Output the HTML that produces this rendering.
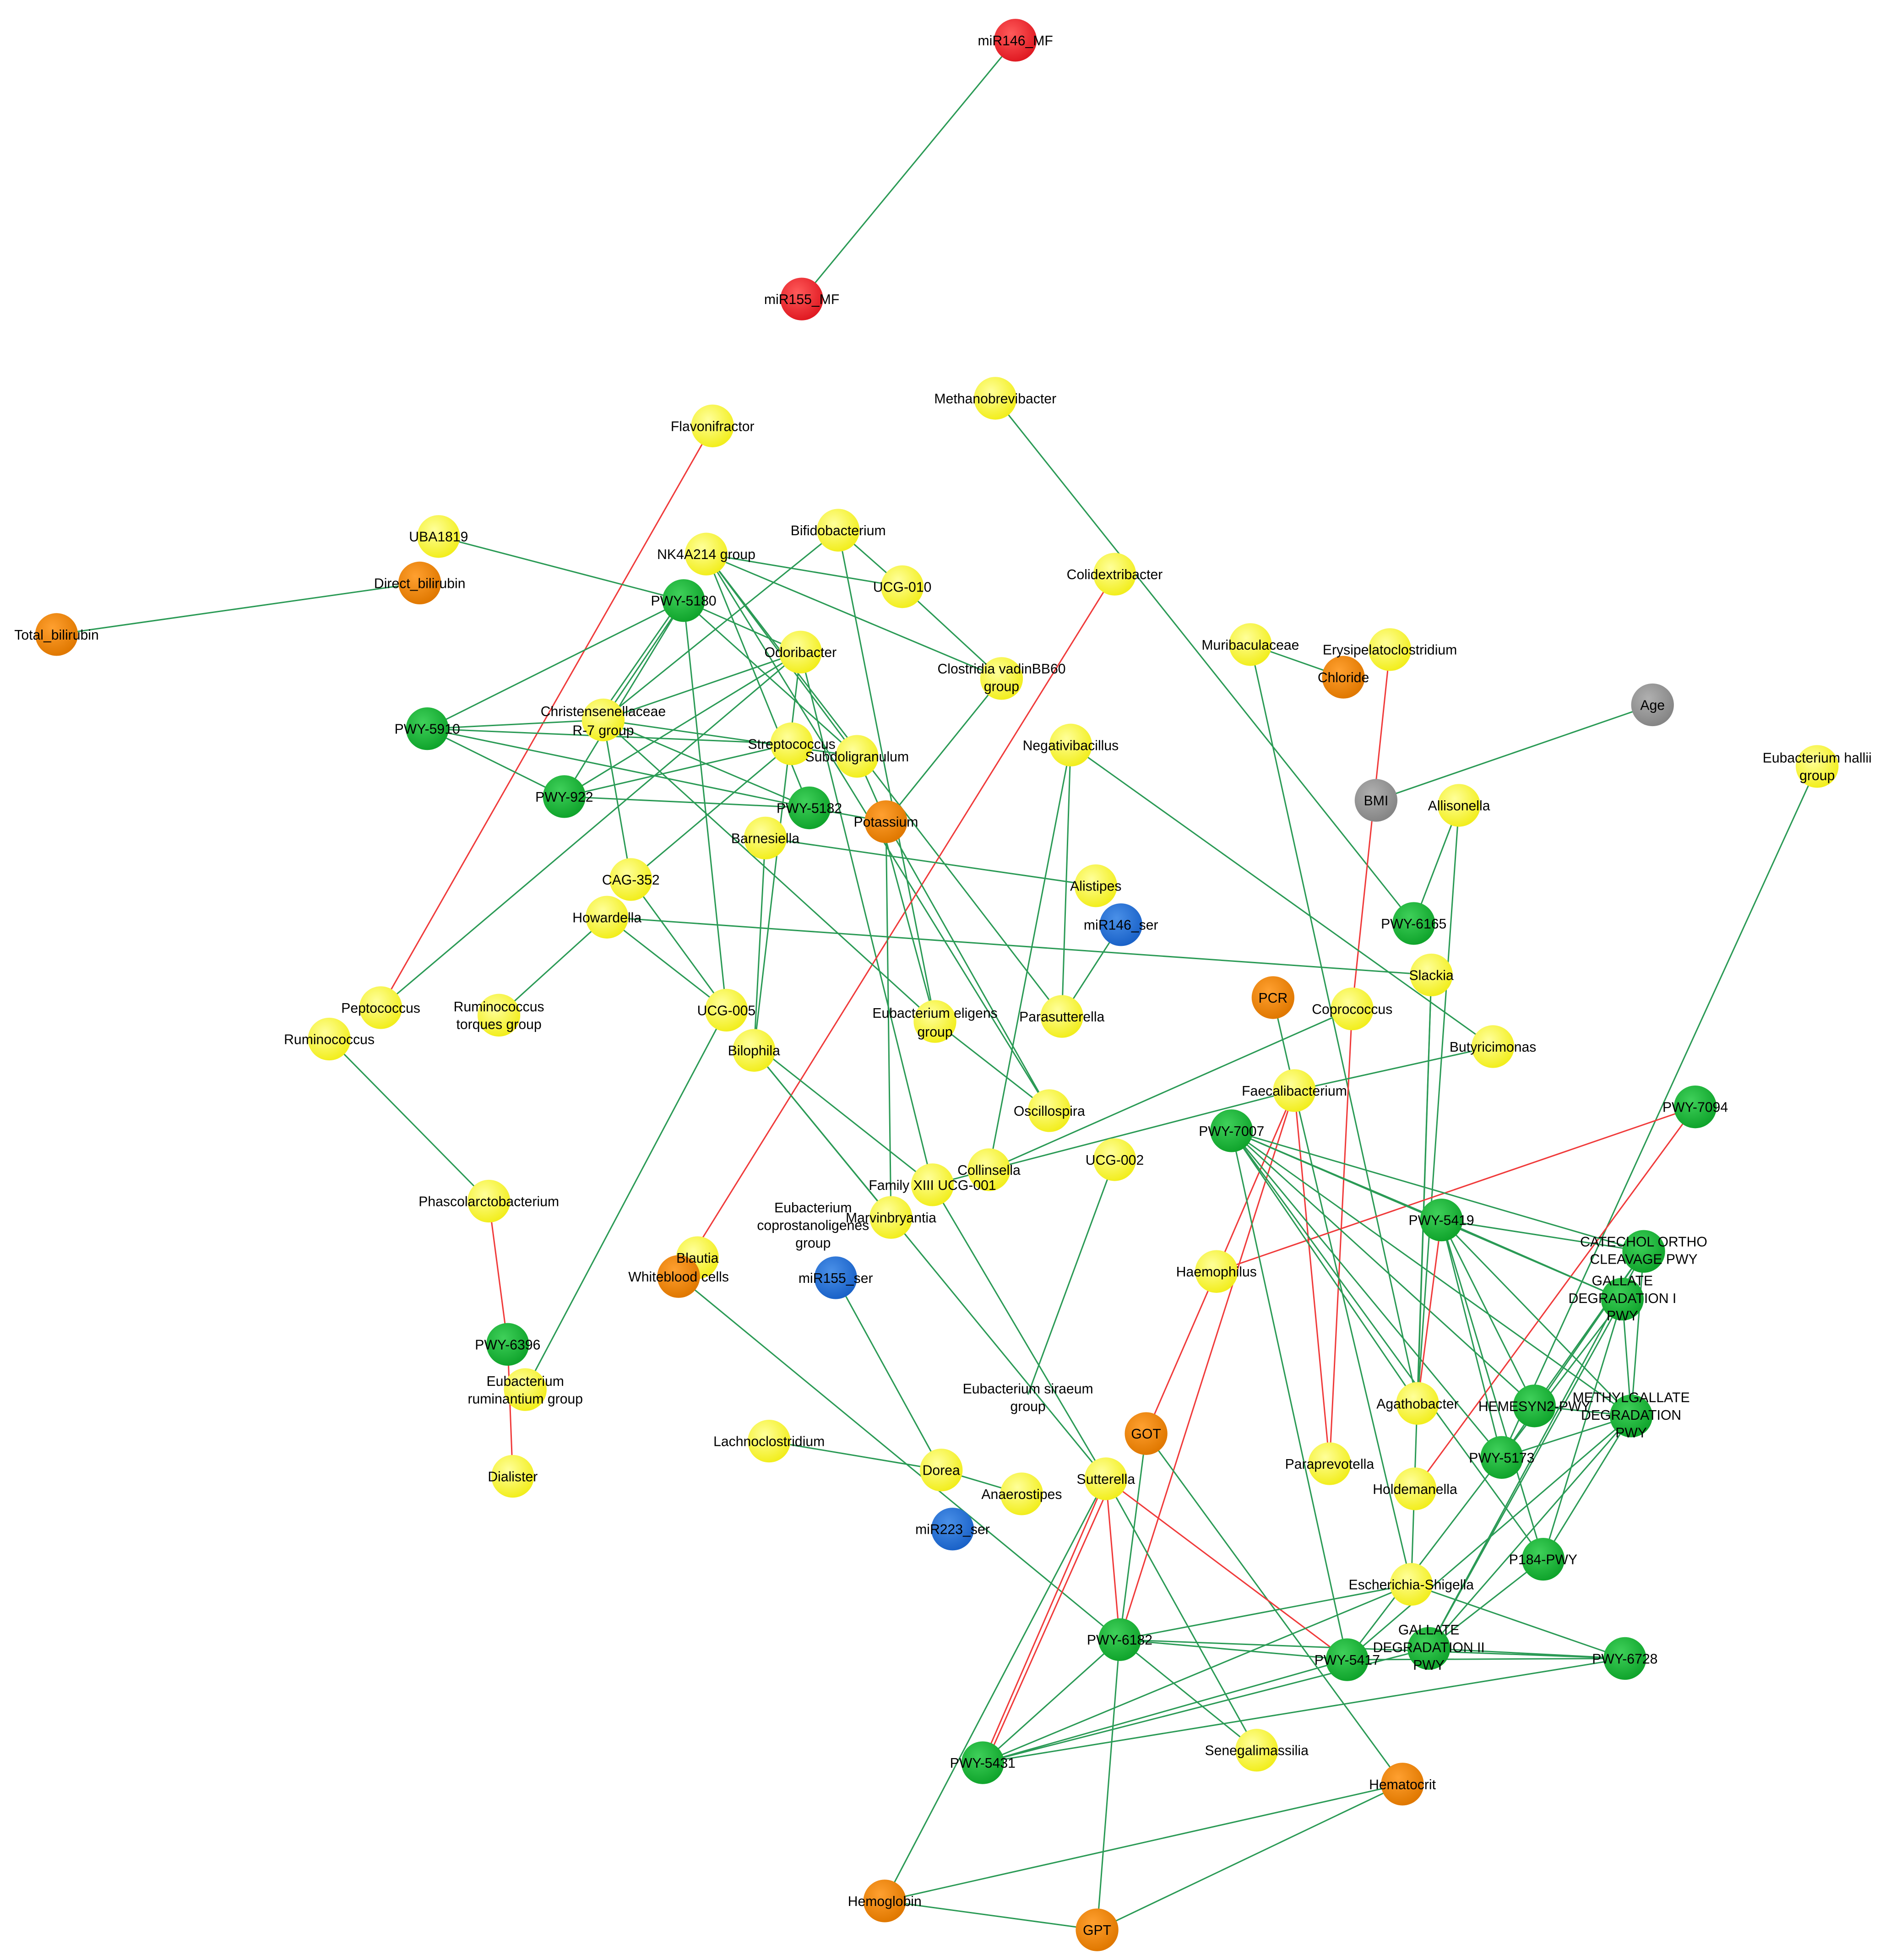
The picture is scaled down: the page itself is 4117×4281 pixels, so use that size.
<!DOCTYPE html>
<html><head><meta charset="utf-8"><style>
html,body{margin:0;padding:0;background:#fff;}
svg{display:block;}
text{font-family:"Liberation Sans",Arial,sans-serif;font-size:11px;fill:#000;text-anchor:middle;}
.g{stroke:#2a9a55;stroke-width:1.1;}
.r{stroke:#f03a3a;stroke-width:1.1;}
</style></head><body>
<svg width="4117" height="4281" viewBox="0 0 1500 1560" preserveAspectRatio="none" xmlns="http://www.w3.org/2000/svg">
<defs>
<radialGradient id="Y" cx="40%" cy="35%" r="65%"><stop offset="0" stop-color="#ffff9a"/><stop offset="1" stop-color="#f2ee1e"/></radialGradient>
<radialGradient id="G" cx="40%" cy="35%" r="65%"><stop offset="0" stop-color="#3fd05a"/><stop offset="1" stop-color="#10a42c"/></radialGradient>
<radialGradient id="O" cx="40%" cy="35%" r="65%"><stop offset="0" stop-color="#ffa030"/><stop offset="1" stop-color="#e07800"/></radialGradient>
<radialGradient id="R" cx="40%" cy="35%" r="65%"><stop offset="0" stop-color="#ff5a5a"/><stop offset="1" stop-color="#e01a22"/></radialGradient>
<radialGradient id="B" cx="40%" cy="35%" r="65%"><stop offset="0" stop-color="#4a90e8"/><stop offset="1" stop-color="#1a62c8"/></radialGradient>
<radialGradient id="A" cx="40%" cy="35%" r="65%"><stop offset="0" stop-color="#b0b0b0"/><stop offset="1" stop-color="#858585"/></radialGradient>
</defs>
<g fill="none">
<line class="g" x1="808" y1="32" x2="638" y2="238"/>
<line class="g" x1="792" y1="317" x2="1125" y2="735"/>
<line class="r" x1="567" y1="339" x2="303" y2="802"/>
<line class="g" x1="349" y1="427" x2="544" y2="478"/>
<line class="g" x1="334" y1="464" x2="45" y2="505"/>
<line class="g" x1="562" y1="441" x2="718" y2="467"/>
<line class="g" x1="562" y1="441" x2="797" y2="540"/>
<line class="g" x1="562" y1="441" x2="835" y2="884"/>
<line class="g" x1="562" y1="441" x2="845" y2="809"/>
<line class="g" x1="562" y1="441" x2="682" y2="602"/>
<line class="g" x1="562" y1="441" x2="644" y2="643"/>
<line class="g" x1="667" y1="422" x2="718" y2="467"/>
<line class="g" x1="667" y1="422" x2="480" y2="573"/>
<line class="g" x1="667" y1="422" x2="744" y2="813"/>
<line class="g" x1="718" y1="467" x2="797" y2="540"/>
<line class="g" x1="544" y1="478" x2="340" y2="580"/>
<line class="g" x1="544" y1="478" x2="480" y2="573"/>
<line class="g" x1="540" y1="480" x2="474" y2="575"/>
<line class="g" x1="544" y1="478" x2="449" y2="634"/>
<line class="g" x1="544" y1="478" x2="578" y2="804"/>
<line class="g" x1="544" y1="478" x2="682" y2="602"/>
<line class="g" x1="544" y1="478" x2="637" y2="519"/>
<line class="g" x1="637" y1="519" x2="480" y2="573"/>
<line class="g" x1="637" y1="519" x2="449" y2="634"/>
<line class="g" x1="637" y1="519" x2="600" y2="836"/>
<line class="g" x1="637" y1="519" x2="742" y2="943"/>
<line class="g" x1="637" y1="519" x2="303" y2="802"/>
<line class="r" x1="887" y1="457" x2="540" y2="1016"/>
<line class="g" x1="797" y1="540" x2="705" y2="654"/>
<line class="g" x1="995" y1="513" x2="1069" y2="539"/>
<line class="g" x1="995" y1="513" x2="1128" y2="1117"/>
<line class="r" x1="1106" y1="517" x2="1076" y2="803"/>
<line class="r" x1="1076" y1="803" x2="1058" y2="1165"/>
<line class="g" x1="1315" y1="561" x2="1095" y2="637"/>
<line class="g" x1="340" y1="580" x2="480" y2="573"/>
<line class="g" x1="340" y1="580" x2="449" y2="634"/>
<line class="g" x1="340" y1="580" x2="644" y2="643"/>
<line class="g" x1="340" y1="580" x2="630" y2="592"/>
<line class="g" x1="480" y1="573" x2="644" y2="643"/>
<line class="g" x1="480" y1="573" x2="502" y2="700"/>
<line class="g" x1="480" y1="573" x2="744" y2="813"/>
<line class="g" x1="480" y1="573" x2="682" y2="602"/>
<line class="g" x1="630" y1="592" x2="449" y2="634"/>
<line class="g" x1="630" y1="592" x2="502" y2="700"/>
<line class="g" x1="682" y1="602" x2="705" y2="654"/>
<line class="g" x1="852" y1="593" x2="845" y2="809"/>
<line class="g" x1="852" y1="593" x2="787" y2="931"/>
<line class="g" x1="852" y1="593" x2="1188" y2="833"/>
<line class="g" x1="1446" y1="610" x2="1195" y2="1160"/>
<line class="g" x1="1161" y1="641" x2="1125" y2="735"/>
<line class="g" x1="1161" y1="641" x2="1128" y2="1117"/>
<line class="g" x1="449" y1="634" x2="644" y2="643"/>
<line class="g" x1="644" y1="643" x2="705" y2="654"/>
<line class="g" x1="705" y1="654" x2="835" y2="884"/>
<line class="g" x1="705" y1="654" x2="709" y2="969"/>
<line class="g" x1="700" y1="650" x2="744" y2="813"/>
<line class="g" x1="609" y1="667" x2="872" y2="705"/>
<line class="g" x1="609" y1="667" x2="600" y2="836"/>
<line class="g" x1="483" y1="730" x2="1139" y2="776"/>
<line class="g" x1="483" y1="730" x2="397" y2="808"/>
<line class="g" x1="502" y1="700" x2="578" y2="804"/>
<line class="g" x1="483" y1="730" x2="578" y2="804"/>
<line class="g" x1="892" y1="736" x2="845" y2="809"/>
<line class="g" x1="1013" y1="794" x2="1030" y2="868"/>
<line class="g" x1="1076" y1="803" x2="787" y2="931"/>
<line class="g" x1="1139" y1="776" x2="1123" y2="1261"/>
<line class="g" x1="1139" y1="776" x2="1128" y2="1117"/>
<line class="g" x1="262" y1="827" x2="389" y2="956"/>
<line class="g" x1="578" y1="804" x2="418" y2="1106"/>
<line class="g" x1="744" y1="813" x2="835" y2="884"/>
<line class="g" x1="600" y1="836" x2="709" y2="969"/>
<line class="g" x1="604" y1="834" x2="742" y2="943"/>
<line class="g" x1="600" y1="836" x2="880" y2="1177"/>
<line class="g" x1="1188" y1="833" x2="1030" y2="868"/>
<line class="g" x1="1030" y1="868" x2="787" y2="931"/>
<line class="r" x1="1030" y1="868" x2="968" y2="1012"/>
<line class="r" x1="1030" y1="868" x2="891" y2="1305"/>
<line class="r" x1="1030" y1="868" x2="1058" y2="1165"/>
<line class="g" x1="1030" y1="868" x2="1123" y2="1261"/>
<line class="r" x1="1349" y1="881" x2="968" y2="1012"/>
<line class="r" x1="1349" y1="881" x2="1126" y2="1185"/>
<line class="g" x1="980" y1="900" x2="1147" y2="971"/>
<line class="g" x1="980" y1="900" x2="1308" y2="996"/>
<line class="g" x1="980" y1="900" x2="1291" y2="1034"/>
<line class="g" x1="980" y1="900" x2="1298" y2="1127"/>
<line class="g" x1="980" y1="900" x2="1195" y2="1160"/>
<line class="g" x1="980" y1="900" x2="1228" y2="1241"/>
<line class="g" x1="980" y1="900" x2="1128" y2="1117"/>
<line class="g" x1="980" y1="900" x2="1072" y2="1321"/>
<line class="g" x1="980" y1="900" x2="1221" y2="1119"/>
<line class="g" x1="1147" y1="971" x2="1308" y2="996"/>
<line class="g" x1="1147" y1="971" x2="1291" y2="1034"/>
<line class="g" x1="1147" y1="971" x2="1298" y2="1127"/>
<line class="g" x1="1147" y1="971" x2="1221" y2="1119"/>
<line class="g" x1="1147" y1="971" x2="1195" y2="1160"/>
<line class="g" x1="1147" y1="971" x2="1228" y2="1241"/>
<line class="r" x1="1147" y1="971" x2="1128" y2="1117"/>
<line class="g" x1="887" y1="923" x2="818" y2="1110"/>
<line class="g" x1="742" y1="943" x2="787" y2="931"/>
<line class="g" x1="742" y1="943" x2="880" y2="1177"/>
<line class="r" x1="389" y1="956" x2="404" y2="1070"/>
<line class="r" x1="404" y1="1070" x2="408" y2="1175"/>
<line class="g" x1="665" y1="1017" x2="749" y2="1170"/>
<line class="g" x1="540" y1="1016" x2="891" y2="1305"/>
<line class="g" x1="612" y1="1147" x2="749" y2="1170"/>
<line class="g" x1="749" y1="1170" x2="813" y2="1189"/>
<line class="r" x1="912" y1="1141" x2="968" y2="1012"/>
<line class="g" x1="912" y1="1141" x2="1116" y2="1420"/>
<line class="g" x1="912" y1="1141" x2="891" y2="1305"/>
<line class="g" x1="880" y1="1177" x2="1000" y2="1393"/>
<line class="r" x1="880" y1="1177" x2="1072" y2="1321"/>
<line class="r" x1="880" y1="1177" x2="782" y2="1403"/>
<line class="r" x1="884" y1="1180" x2="786" y2="1400"/>
<line class="r" x1="880" y1="1177" x2="891" y2="1305"/>
<line class="g" x1="891" y1="1305" x2="1072" y2="1321"/>
<line class="g" x1="891" y1="1305" x2="1293" y2="1320"/>
<line class="g" x1="891" y1="1305" x2="873" y2="1536"/>
<line class="g" x1="891" y1="1305" x2="1123" y2="1261"/>
<line class="g" x1="891" y1="1305" x2="782" y2="1403"/>
<line class="g" x1="891" y1="1305" x2="1000" y2="1393"/>
<line class="g" x1="782" y1="1403" x2="1123" y2="1261"/>
<line class="g" x1="782" y1="1403" x2="1293" y2="1320"/>
<line class="g" x1="782" y1="1403" x2="1137" y2="1312"/>
<line class="g" x1="782" y1="1403" x2="1072" y2="1321"/>
<line class="g" x1="880" y1="1177" x2="704" y2="1513"/>
<line class="g" x1="1116" y1="1420" x2="704" y2="1513"/>
<line class="g" x1="1116" y1="1420" x2="873" y2="1536"/>
<line class="g" x1="704" y1="1513" x2="873" y2="1536"/>
<line class="g" x1="1137" y1="1312" x2="1228" y2="1241"/>
<line class="g" x1="1137" y1="1312" x2="1298" y2="1127"/>
<line class="g" x1="1137" y1="1312" x2="1308" y2="996"/>
<line class="g" x1="1137" y1="1312" x2="1291" y2="1034"/>
<line class="g" x1="1072" y1="1321" x2="1291" y2="1034"/>
<line class="g" x1="1072" y1="1321" x2="1298" y2="1127"/>
<line class="g" x1="1072" y1="1321" x2="1293" y2="1320"/>
<line class="g" x1="1195" y1="1160" x2="1308" y2="996"/>
<line class="g" x1="1195" y1="1160" x2="1298" y2="1127"/>
<line class="g" x1="1228" y1="1241" x2="1291" y2="1034"/>
<line class="g" x1="1228" y1="1241" x2="1298" y2="1127"/>
<line class="g" x1="1221" y1="1119" x2="1308" y2="996"/>
<line class="g" x1="1221" y1="1119" x2="1298" y2="1127"/>
<line class="g" x1="1308" y1="996" x2="1298" y2="1127"/>
<line class="g" x1="1291" y1="1034" x2="1298" y2="1127"/>
<line class="g" x1="1123" y1="1261" x2="1293" y2="1320"/>
<line class="g" x1="1137" y1="1312" x2="1293" y2="1320"/>
</g>
<g stroke="none">
<circle cx="808" cy="32" r="17" fill="url(#R)"/>
<circle cx="638" cy="238" r="17" fill="url(#R)"/>
<circle cx="792" cy="317" r="17" fill="url(#Y)"/>
<circle cx="567" cy="339" r="17" fill="url(#Y)"/>
<circle cx="349" cy="427" r="17" fill="url(#Y)"/>
<circle cx="334" cy="464" r="17" fill="url(#O)"/>
<circle cx="45" cy="505" r="17" fill="url(#O)"/>
<circle cx="562" cy="441" r="17" fill="url(#Y)"/>
<circle cx="667" cy="422" r="17" fill="url(#Y)"/>
<circle cx="718" cy="467" r="17" fill="url(#Y)"/>
<circle cx="544" cy="478" r="17" fill="url(#G)"/>
<circle cx="887" cy="457" r="17" fill="url(#Y)"/>
<circle cx="637" cy="519" r="17" fill="url(#Y)"/>
<circle cx="797" cy="540" r="17" fill="url(#Y)"/>
<circle cx="995" cy="513" r="17" fill="url(#Y)"/>
<circle cx="1106" cy="517" r="17" fill="url(#Y)"/>
<circle cx="1069" cy="539" r="17" fill="url(#O)"/>
<circle cx="1315" cy="561" r="17" fill="url(#A)"/>
<circle cx="340" cy="580" r="17" fill="url(#G)"/>
<circle cx="480" cy="573" r="17" fill="url(#Y)"/>
<circle cx="630" cy="592" r="17" fill="url(#Y)"/>
<circle cx="682" cy="602" r="17" fill="url(#Y)"/>
<circle cx="852" cy="593" r="17" fill="url(#Y)"/>
<circle cx="1446" cy="610" r="17" fill="url(#Y)"/>
<circle cx="1095" cy="637" r="17" fill="url(#A)"/>
<circle cx="1161" cy="641" r="17" fill="url(#Y)"/>
<circle cx="449" cy="634" r="17" fill="url(#G)"/>
<circle cx="644" cy="643" r="17" fill="url(#G)"/>
<circle cx="705" cy="654" r="17" fill="url(#O)"/>
<circle cx="609" cy="667" r="17" fill="url(#Y)"/>
<circle cx="872" cy="705" r="17" fill="url(#Y)"/>
<circle cx="502" cy="700" r="17" fill="url(#Y)"/>
<circle cx="483" cy="730" r="17" fill="url(#Y)"/>
<circle cx="892" cy="736" r="17" fill="url(#B)"/>
<circle cx="1125" cy="735" r="17" fill="url(#G)"/>
<circle cx="1139" cy="776" r="17" fill="url(#Y)"/>
<circle cx="1013" cy="794" r="17" fill="url(#O)"/>
<circle cx="1076" cy="803" r="17" fill="url(#Y)"/>
<circle cx="303" cy="802" r="17" fill="url(#Y)"/>
<circle cx="397" cy="808" r="17" fill="url(#Y)"/>
<circle cx="262" cy="827" r="17" fill="url(#Y)"/>
<circle cx="578" cy="804" r="17" fill="url(#Y)"/>
<circle cx="744" cy="813" r="17" fill="url(#Y)"/>
<circle cx="845" cy="809" r="17" fill="url(#Y)"/>
<circle cx="600" cy="836" r="17" fill="url(#Y)"/>
<circle cx="1188" cy="833" r="17" fill="url(#Y)"/>
<circle cx="1030" cy="868" r="17" fill="url(#Y)"/>
<circle cx="835" cy="884" r="17" fill="url(#Y)"/>
<circle cx="1349" cy="881" r="17" fill="url(#G)"/>
<circle cx="980" cy="900" r="17" fill="url(#G)"/>
<circle cx="787" cy="931" r="17" fill="url(#Y)"/>
<circle cx="887" cy="923" r="17" fill="url(#Y)"/>
<circle cx="742" cy="943" r="17" fill="url(#Y)"/>
<circle cx="389" cy="956" r="17" fill="url(#Y)"/>
<circle cx="709" cy="969" r="17" fill="url(#Y)"/>
<circle cx="1147" cy="971" r="17" fill="url(#G)"/>
<circle cx="1308" cy="996" r="17" fill="url(#G)"/>
<circle cx="555" cy="1001" r="17" fill="url(#Y)"/>
<circle cx="540" cy="1016" r="17" fill="url(#O)"/>
<circle cx="665" cy="1017" r="17" fill="url(#B)"/>
<circle cx="968" cy="1012" r="17" fill="url(#Y)"/>
<circle cx="1291" cy="1034" r="17" fill="url(#G)"/>
<circle cx="404" cy="1070" r="17" fill="url(#G)"/>
<circle cx="418" cy="1106" r="17" fill="url(#Y)"/>
<circle cx="1128" cy="1117" r="17" fill="url(#Y)"/>
<circle cx="1221" cy="1119" r="17" fill="url(#G)"/>
<circle cx="1298" cy="1127" r="17" fill="url(#G)"/>
<circle cx="912" cy="1141" r="17" fill="url(#O)"/>
<circle cx="612" cy="1147" r="17" fill="url(#Y)"/>
<circle cx="749" cy="1170" r="17" fill="url(#Y)"/>
<circle cx="1058" cy="1165" r="17" fill="url(#Y)"/>
<circle cx="1195" cy="1160" r="17" fill="url(#G)"/>
<circle cx="1126" cy="1185" r="17" fill="url(#Y)"/>
<circle cx="408" cy="1175" r="17" fill="url(#Y)"/>
<circle cx="813" cy="1189" r="17" fill="url(#Y)"/>
<circle cx="880" cy="1177" r="17" fill="url(#Y)"/>
<circle cx="758" cy="1217" r="17" fill="url(#B)"/>
<circle cx="1228" cy="1241" r="17" fill="url(#G)"/>
<circle cx="1123" cy="1261" r="17" fill="url(#Y)"/>
<circle cx="891" cy="1305" r="17" fill="url(#G)"/>
<circle cx="1137" cy="1312" r="17" fill="url(#G)"/>
<circle cx="1072" cy="1321" r="17" fill="url(#G)"/>
<circle cx="1293" cy="1320" r="17" fill="url(#G)"/>
<circle cx="782" cy="1403" r="17" fill="url(#G)"/>
<circle cx="1000" cy="1393" r="17" fill="url(#Y)"/>
<circle cx="1116" cy="1420" r="17" fill="url(#O)"/>
<circle cx="704" cy="1513" r="17" fill="url(#O)"/>
<circle cx="873" cy="1536" r="17" fill="url(#O)"/>
</g>
<g>
<text x="808" y="36">miR146_MF</text>
<text x="638" y="242">miR155_MF</text>
<text x="792" y="321">Methanobrevibacter</text>
<text x="567" y="343">Flavonifractor</text>
<text x="349" y="431">UBA1819</text>
<text x="334" y="468">Direct_bilirubin</text>
<text x="45" y="509">Total_bilirubin</text>
<text x="562" y="445">NK4A214 group</text>
<text x="667" y="426">Bifidobacterium</text>
<text x="718" y="471">UCG-010</text>
<text x="544" y="482">PWY-5180</text>
<text x="887" y="461">Colidextribacter</text>
<text x="637" y="523">Odoribacter</text>
<text x="797" y="536">Clostridia vadinBB60</text>
<text x="797" y="550">group</text>
<text x="995" y="517">Muribaculaceae</text>
<text x="1106" y="521">Erysipelatoclostridium</text>
<text x="1069" y="543">Chloride</text>
<text x="1315" y="565">Age</text>
<text x="340" y="584">PWY-5910</text>
<text x="480" y="570">Christensenellaceae</text>
<text x="480" y="585">R-7 group</text>
<text x="630" y="596">Streptococcus</text>
<text x="682" y="606">Subdoligranulum</text>
<text x="852" y="597">Negativibacillus</text>
<text x="1446" y="607">Eubacterium hallii</text>
<text x="1446" y="621">group</text>
<text x="1095" y="641">BMI</text>
<text x="1161" y="645">Allisonella</text>
<text x="449" y="638">PWY-922</text>
<text x="644" y="647">PWY-5182</text>
<text x="705" y="658">Potassium</text>
<text x="609" y="671">Barnesiella</text>
<text x="872" y="709">Alistipes</text>
<text x="502" y="704">CAG-352</text>
<text x="483" y="734">Howardella</text>
<text x="892" y="740">miR146_ser</text>
<text x="1125" y="739">PWY-6165</text>
<text x="1139" y="780">Slackia</text>
<text x="1013" y="798">PCR</text>
<text x="1076" y="807">Coprococcus</text>
<text x="303" y="806">Peptococcus</text>
<text x="397" y="805">Ruminococcus</text>
<text x="397" y="819">torques group</text>
<text x="262" y="831">Ruminococcus</text>
<text x="578" y="808">UCG-005</text>
<text x="744" y="810">Eubacterium eligens</text>
<text x="744" y="825">group</text>
<text x="845" y="813">Parasutterella</text>
<text x="600" y="840">Bilophila</text>
<text x="1188" y="837">Butyricimonas</text>
<text x="1030" y="872">Faecalibacterium</text>
<text x="835" y="888">Oscillospira</text>
<text x="1349" y="885">PWY-7094</text>
<text x="980" y="904">PWY-7007</text>
<text x="787" y="935">Collinsella</text>
<text x="887" y="927">UCG-002</text>
<text x="742" y="947">Family XIII UCG-001</text>
<text x="389" y="960">Phascolarctobacterium</text>
<text x="709" y="973">Marvinbryantia</text>
<text x="647" y="965">Eubacterium</text>
<text x="647" y="979">coprostanoligenes</text>
<text x="647" y="993">group</text>
<text x="1147" y="975">PWY-5419</text>
<text x="1308" y="992">CATECHOL ORTHO</text>
<text x="1308" y="1006">CLEAVAGE PWY</text>
<text x="555" y="1005">Blautia</text>
<text x="540" y="1020">Whiteblood cells</text>
<text x="665" y="1021">miR155_ser</text>
<text x="968" y="1016">Haemophilus</text>
<text x="1291" y="1023">GALLATE</text>
<text x="1291" y="1037">DEGRADATION I</text>
<text x="1291" y="1051">PWY</text>
<text x="404" y="1074">PWY-6396</text>
<text x="418" y="1103">Eubacterium</text>
<text x="418" y="1117">ruminantium group</text>
<text x="1128" y="1121">Agathobacter</text>
<text x="1221" y="1123">HEMESYN2-PWY</text>
<text x="1298" y="1116">METHYLGALLATE</text>
<text x="1298" y="1130">DEGRADATION</text>
<text x="1298" y="1144">PWY</text>
<text x="912" y="1145">GOT</text>
<text x="612" y="1151">Lachnoclostridium</text>
<text x="749" y="1174">Dorea</text>
<text x="1058" y="1169">Paraprevotella</text>
<text x="1195" y="1164">PWY-5173</text>
<text x="1126" y="1189">Holdemanella</text>
<text x="408" y="1179">Dialister</text>
<text x="813" y="1193">Anaerostipes</text>
<text x="880" y="1181">Sutterella</text>
<text x="818" y="1109">Eubacterium siraeum</text>
<text x="818" y="1123">group</text>
<text x="758" y="1221">miR223_ser</text>
<text x="1228" y="1245">P184-PWY</text>
<text x="1123" y="1265">Escherichia-Shigella</text>
<text x="891" y="1309">PWY-6182</text>
<text x="1137" y="1301">GALLATE</text>
<text x="1137" y="1315">DEGRADATION II</text>
<text x="1137" y="1329">PWY</text>
<text x="1072" y="1325">PWY-5417</text>
<text x="1293" y="1324">PWY-6728</text>
<text x="782" y="1407">PWY-5431</text>
<text x="1000" y="1397">Senegalimassilia</text>
<text x="1116" y="1424">Hematocrit</text>
<text x="704" y="1517">Hemoglobin</text>
<text x="873" y="1540">GPT</text>
</g>
</svg>
</body></html>
